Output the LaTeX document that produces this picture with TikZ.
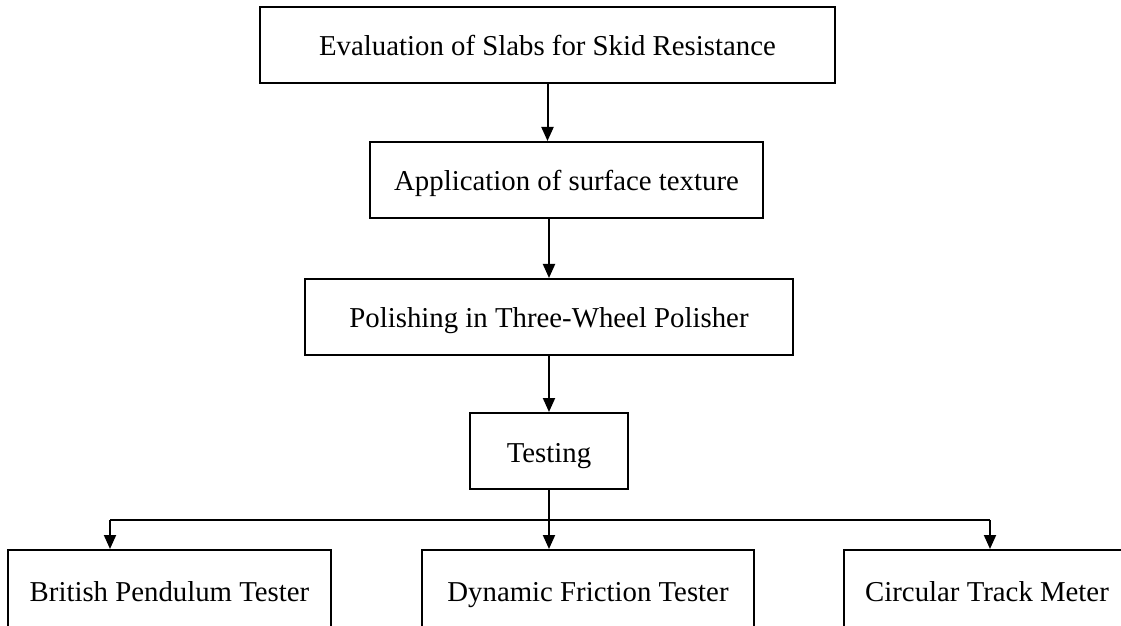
\documentclass[tikz,border=0pt]{standalone}
\usepackage{fontspec}
\setmainfont{Liberation Serif}
\usetikzlibrary{arrows.meta, positioning}
\tikzstyle{flow}=[line width=1pt, >={Triangle[width=6pt,length=7pt]}]
\tikzstyle{box}=[draw, line width=1pt, inner sep=0pt, minimum height=38pt, text height=12pt, text depth=1pt, font=\fontsize{14.4}{17}\selectfont]

\begin{document}
\begin{tikzpicture}[flow, x=0.5pt, y=-0.5pt, node distance=30pt]
  \useasboundingbox (0,0) rectangle (1121,626);
  \node[box,minimum width=287.5pt] (eval) at (547.5,45) {Evaluation of Slabs for Skid Resistance};
  \node[box,minimum width=196.5pt] (apply) [below=28.5pt of eval, xshift=9.5pt] {Application of surface texture};
  \node[box,minimum width=244pt] (polish) [below=29.5pt of apply, xshift=-8.75pt] {Polishing in Three-Wheel Polisher};
  \node[box,minimum width=79pt] (test) [below=28pt of polish] {Testing};
  \node[box,minimum width=166pt,minimum height=40pt] (dft) [below=29.5pt of test, xshift=19.5pt] {Dynamic Friction Tester};
  \node[box,minimum width=161.5pt,minimum height=40pt] (bpt) [left=44.5pt of dft] {British Pendulum Tester};
  \node[box,minimum width=143pt,minimum height=40pt] (ctm) [right=44pt of dft] {Circular Track Meter};
  \coordinate (lft) at (110,520);
  \coordinate (rgt) at (990,520);
  \path[->] (eval.south) edge (eval.south |- apply.north);
  \path[->] (polish.north |- apply.south) edge (polish.north);
  \path[->] (polish.south) edge (test.north);
  \path[->] (test.south) edge (test.south |- dft.north);
  \draw (lft) -- (rgt);
  \path[->] (lft) edge (lft |- bpt.north);
  \path[->] (rgt) edge (rgt |- ctm.north);
\end{tikzpicture}
\end{document}
